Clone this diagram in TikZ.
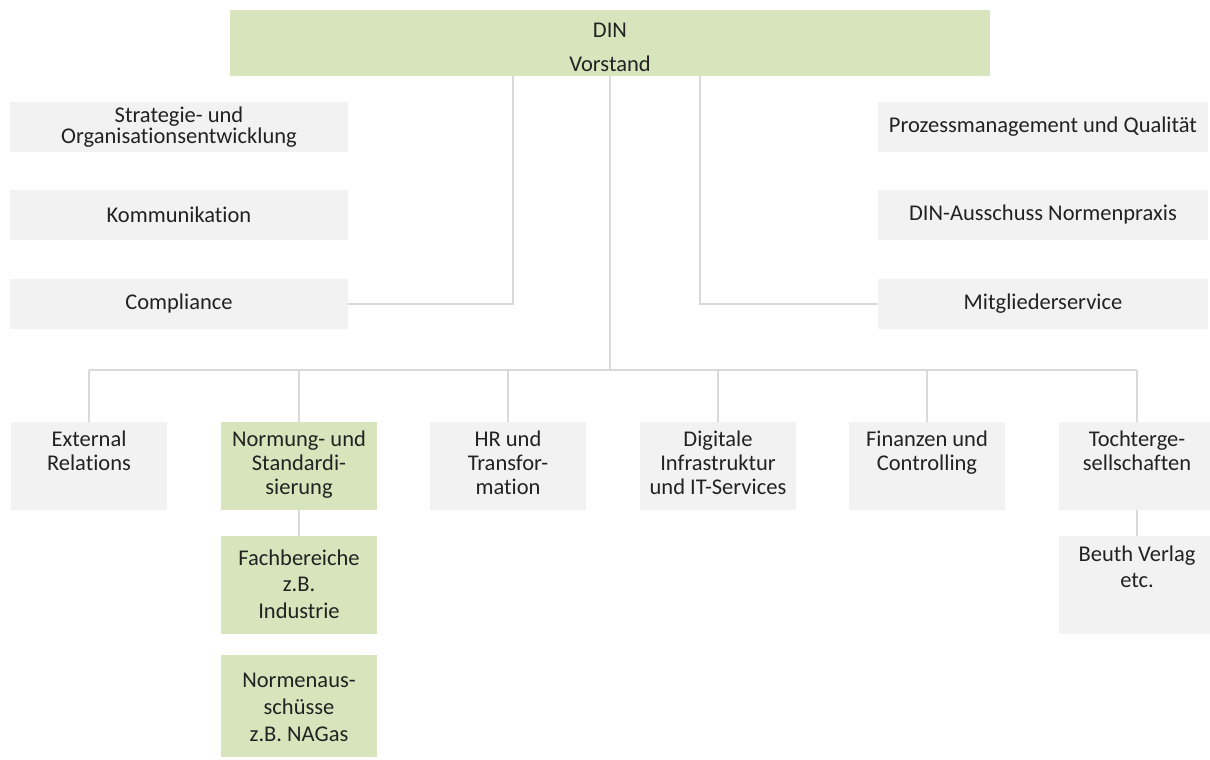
\documentclass[tikz,border=0pt]{standalone}
\usepackage{fontspec}
\setmainfont{Carlito}[Ligatures=NoCommon]
\usepackage{tikz}
\usetikzlibrary{calc}

\definecolor{boxgray}{HTML}{F2F2F2}
\definecolor{boxgreen}{HTML}{D8E4BC}
\definecolor{linegray}{HTML}{D9D9D9}
\definecolor{textgray}{HTML}{222222}

\begin{document}
\begin{tikzpicture}[x=0.02cm, y=-0.02cm,
		every node/.append style={text=textgray},
		staff/.style={fill=boxgray, minimum width=6.76cm, minimum height=1.02cm, align=flush center, inner sep=0pt, font={\fontsize{12.8}{12}\selectfont}},
		unit/.style={fill=boxgray, text width=3.14cm, align=flush center, inner sep=0pt, text height=0.49cm, text depth=1.27cm, font={\fontsize{12.8}{13.8}\selectfont}},
		subunit/.style={unit, text height=0.58cm, text depth=1.38cm, font={\fontsize{12.8}{15.3}\selectfont}},
		link/.style={draw=linegray, line width=0.8pt}]
				\useasboundingbox (0,0) rectangle (1210,760);
				\node[unit, fill=boxgreen, text width=15.2cm, text height=0.56cm, text depth=0.76cm] (DIN) at (610,43) {DIN\\[5.5pt]Vorstand};
				\node[staff] (SO) at (179,127) {Strategie- und\\Organisationsentwicklung};
				\node[staff] (K) at (179,215) {Kommunikation};
				\node[staff] (C) at (179,304) {Compliance};
				\draw[link] (C) -| ($(DIN.south)+(-97,0)$);
				\node[staff, minimum width=6.6cm] (PQ) at (1043,127) {Prozessmanagement und Qualität};
				\node[staff, minimum width=6.6cm] (NP) at (1043,215) {DIN-Ausschuss Normenpraxis};
				\node[staff, minimum width=6.6cm] (M) at (1043,304) {Mitgliederservice};
				\draw[link] (M) -| ($(DIN.south)+(90,0)$);
				\node[unit] (ER) at (89,466) {External\\Relations};
				\node[unit, fill=boxgreen] (NS) at (299,466) {Normung- und\\Standardi-\\sierung};
				\node[unit] (HR) at (508,466) {HR und\\Transfor-\\mation};
				\node[unit] (DI) at (718,466) {Digitale\\Infrastruktur\\und IT-Services};
				\node[unit] (FC) at (927,466) {Finanzen und\\Controlling};
				\node[unit] (TG) at (1137,466) {Tochterge-\\sellschaften};
				\coordinate (bus) at (610,370);
				\draw[link] (DIN) -- (bus);
				\draw[link] (ER |- bus) -- (TG |- bus);
				\foreach \n in {ER,NS,HR,DI,FC,TG}
					\draw[link] (\n) -- (\n |- bus);
				\node[subunit, fill=boxgreen] (FB) at (299,585) {Fachbereiche\\z.B.\\Industrie};
				\draw[link] (NS) -- (FB);
				\node[subunit, fill=boxgreen, text height=0.66cm, text depth=1.4cm] (NA) at (299,706) {Normenaus-\\schüsse\\z.B. NAGas};
				\node[subunit, text height=0.5cm, text depth=1.46cm] (BV) at (1137,585) {Beuth Verlag\\etc.};
				\draw[link] (TG) -- (BV);
			\end{tikzpicture}
\end{document}
